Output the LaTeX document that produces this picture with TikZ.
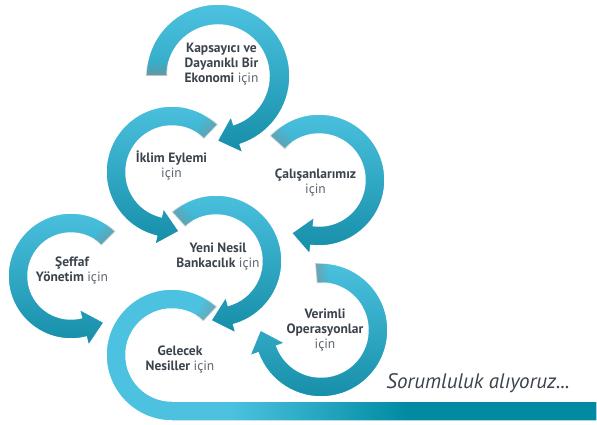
\documentclass[tikz,border=0pt]{standalone}
\usepackage{fontspec}
\usetikzlibrary{fadings}
\setmainfont{PT Sans}
\definecolor{ringtop}{HTML}{4CC2E0}
\definecolor{ringbot}{HTML}{168EA8}
\definecolor{bardark}{HTML}{008BA3}
\definecolor{txtdark}{HTML}{3B434D}
\definecolor{txtgray}{HTML}{5C6570}
\pgfdeclarehorizontalshading{barshade}{100bp}{color(0bp)=(ringtop); color(38bp)=(ringtop); color(56bp)=(bardark); color(100bp)=(bardark)}
\newcommand{\icin}{\mdseries\color{txtgray}için}
\begin{document}
\begin{tikzpicture}[x=1pt,y=1pt,
  ring/.style={top color=ringtop,bottom color=ringbot,draw=white,line width=1.5pt},
  tailshadow/.style={fill=black!45,opacity=.55,path fading=north},
  lbl/.style={align=center,text=txtdark,font=\fontsize{13.5}{15}\selectfont\bfseries}]
\useasboundingbox (0,0) rectangle (597,424);
% Gelecek Nesiller, with the bar along the bottom
\begin{scope}[shift={(172,69)}]
 \path[draw=white,line width=1.5pt,shading=barshade] (47:66) arc[start angle=47,end angle=270,radius=66pt] -- (425,-66) -- (425,-46) -- (270:46) arc[start angle=270,end angle=47,radius=46pt] -- cycle;
 \fill[tailshadow,fading angle=47] (47:66) arc[start angle=47,end angle=59,radius=66pt] -- (59:46) arc[start angle=59,end angle=47,radius=46pt] -- cycle;
\end{scope}
% Verimli Operasyonlar
\begin{scope}[shift={(321,94)}]
 \path[ring] (95:67) arc[start angle=95,end angle=-160,radius=67pt] -- (-160:76) -- ({-160-atan(21/57)}:{sqrt(57^2+441)}) -- (-160:38) -- (-160:47) arc[start angle=-160,end angle=95,radius=47pt] -- cycle;
 \fill[tailshadow,fading angle=-85] (95:67) arc[start angle=95,end angle=83,radius=67pt] -- (83:47) arc[start angle=83,end angle=95,radius=47pt] -- cycle;
\end{scope}
% Seffaf Yonetim
\begin{scope}[shift={(71,148)}]
 \path[ring] (45:63) arc[start angle=45,end angle=284,radius=63pt] -- (284:72) -- ({284+atan(21/53)}:{sqrt(53^2+441)}) -- (284:34) -- (284:43) arc[start angle=284,end angle=45,radius=43pt] -- cycle;
 \fill[tailshadow,fading angle=45] (45:63) arc[start angle=45,end angle=57,radius=63pt] -- (57:43) arc[start angle=57,end angle=45,radius=43pt] -- cycle;
\end{scope}
% Yeni Nesil Bankacilik
\begin{scope}[shift={(216,163)}]
 \path[ring] (132:66) arc[start angle=132,end angle=-74.5,radius=66pt] -- (-74.5:75) -- ({-74.5-atan(21/56)}:{sqrt(56^2+441)}) -- (-74.5:37) -- (-74.5:46) arc[start angle=-74.5,end angle=132,radius=46pt] -- cycle;
 \fill[tailshadow,fading angle=-48] (132:66) arc[start angle=132,end angle=120,radius=66pt] -- (120:46) arc[start angle=120,end angle=132,radius=46pt] -- cycle;
\end{scope}
% Calisanlarimiz
\begin{scope}[shift={(319,244)}]
 \path[ring] (138:66) arc[start angle=138,end angle=-97,radius=66pt] -- (-97:75) -- ({-97-atan(21/56)}:{sqrt(56^2+441)}) -- (-97:37) -- (-97:46) arc[start angle=-97,end angle=138,radius=46pt] -- cycle;
 \fill[tailshadow,fading angle=-42] (138:66) arc[start angle=138,end angle=126,radius=66pt] -- (126:46) arc[start angle=126,end angle=138,radius=46pt] -- cycle;
\end{scope}
% Iklim Eylemi
\begin{scope}[shift={(172,252)}]
 \path[ring] (46:66) arc[start angle=46,end angle=256.5,radius=66pt] -- (256.5:75) -- ({256.5+atan(21/56)}:{sqrt(56^2+441)}) -- (256.5:37) -- (256.5:46) arc[start angle=256.5,end angle=46,radius=46pt] -- cycle;
 \fill[tailshadow,fading angle=46] (46:66) arc[start angle=46,end angle=58,radius=66pt] -- (58:46) arc[start angle=58,end angle=46,radius=46pt] -- cycle;
\end{scope}
% Kapsayici ve Dayanikli Bir Ekonomi
\begin{scope}[shift={(218,348)}]
 \path[ring] (180:72) arc[start angle=180,end angle=-72,radius=72pt] -- (-72:81) -- ({-72-atan(21/61.5)}:{sqrt(61.5^2+441)}) -- (-72:42) -- (-72:51) arc[start angle=-72,end angle=180,radius=51pt] -- cycle;
 \fill[tailshadow,fading angle=0] (180:72) arc[start angle=180,end angle=168,radius=72pt] -- (168:51) arc[start angle=168,end angle=180,radius=51pt] -- cycle;
\end{scope}
% labels
\node[lbl] (kapsayici) at (221.5,360) {Kapsayıcı ve\\Dayanıklı Bir\\Ekonomi {\icin}};
\node[lbl] (iklim) at (171.5,258) {İklim Eylemi\\{\icin}};
\node[lbl] (calisan) at (315.5,241.5) {Çalışanlarımız\\{\icin}};
\node[lbl] (yeninesil) at (218,167) {Yeni Nesil\\Bankacılık {\icin}};
\node[lbl] (seffaf) at (72,153.5) {Şeffaf\\Yönetim {\icin}};
\node[lbl] (gelecek) at (180,64) {Gelecek\\Nesiller {\icin}};
\node[lbl] (verimli) at (325,94) {Verimli\\Operasyonlar\\{\icin}};
\node[font=\fontsize{21}{24}\selectfont\itshape,text=txtdark] (slogan) at (478,41) {Sorumluluk alıyoruz...};
\end{tikzpicture}
\end{document}
